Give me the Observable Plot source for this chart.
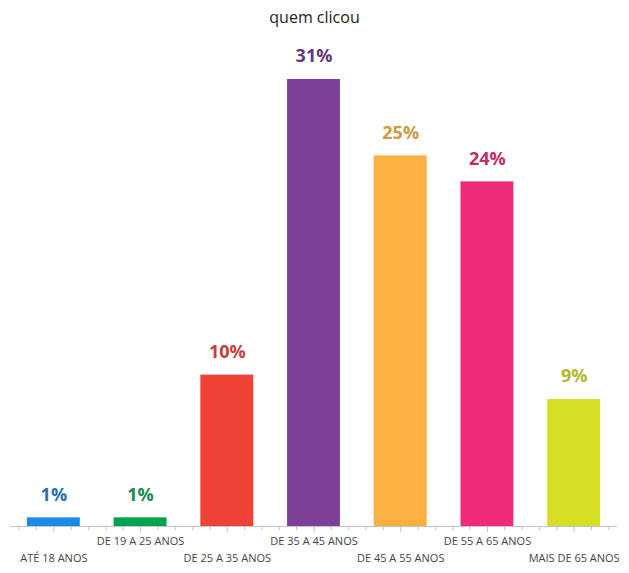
<!DOCTYPE html>
<html>
<head>
<meta charset="utf-8">
<script src="https://cdn.jsdelivr.net/npm/d3@7"></script>
<script src="https://cdn.jsdelivr.net/npm/@observablehq/plot@0.6"></script>
<style>
  html, body { margin: 0; padding: 0; background: #fff; }
  #title { font-family: "Open Sans", sans-serif; font-size: 16px; color: #222; text-align: center; height: 34px; line-height: 34px; width: 629px; }
</style>
</head>
<body>
<div id="title">quem clicou</div>
<div id="chart"></div>
<script>
const categories = ["ATÉ 18 ANOS", "DE 19 A 25 ANOS", "DE 25 A 35 ANOS", "DE 35 A 45 ANOS", "DE 45 A 55 ANOS", "DE 55 A 65 ANOS", "MAIS DE 65 ANOS"];
const values = [0.6, 0.6, 10.5, 31.0, 25.7, 23.9, 8.8];
const labels = ["1%", "1%", "10%", "31%", "25%", "24%", "9%"];
const barColors = ["#1e88e5", "#00a14f", "#ef4136", "#7e3f97", "#fbb040", "#ee2b7b", "#d6df23"];
const labelColors = ["#2a6db0", "#1d8a4f", "#c2413b", "#65387d", "#d4983e", "#c22c6a", "#b3b82d"];

const data = categories.map((c, i) => ({cat: c, value: values[i], label: labels[i], bar: barColors[i], lab: labelColors[i], row: i % 2}));

const W = 629, H = 539, ml = 10, mr = 12, mt = 45, mb = 47;
const yMax = 31;
const unitsPerPx = yMax / (H - mt - mb);
const step = (W - ml - mr) / categories.length / 5;

const tickMarks = [-2, -1, 0, 1, 2].map(k =>
  Plot.ruleX(categories, {x: d => d, y1: 0, y2: -(k === 0 ? 6 : 4) * unitsPerPx, dx: k * step, stroke: "#c4c4c4", strokeWidth: 1})
);

const chart = Plot.plot({
  width: W,
  height: H,
  marginLeft: ml,
  marginRight: mr,
  marginTop: mt,
  marginBottom: mb,
  style: {fontFamily: "Open Sans, sans-serif", background: "#fff"},
  x: {domain: categories, paddingInner: 0.39, paddingOuter: 0.195, round: false, axis: null},
  y: {domain: [0, yMax], axis: null},
  marks: [
    Plot.barY(data, {x: "cat", y: "value", fill: d => d.bar}),
    Plot.ruleY([0], {stroke: "#c4c4c4", strokeWidth: 1}),
    ...tickMarks,
    Plot.text(data, {x: "cat", y: "value", text: "label", dy: -23, fill: d => d.lab, fontSize: 18, fontWeight: "bold"}),
    Plot.text(data, {x: "cat", y: 0, text: "cat", fill: "#444", fontSize: 11, filter: d => d.row === 1, dy: 15}),
    Plot.text(data, {x: "cat", y: 0, text: "cat", fill: "#444", fontSize: 11, filter: d => d.row === 0, dy: 32})
  ]
});
document.getElementById("chart").appendChild(chart);
</script>
</body>
</html>
